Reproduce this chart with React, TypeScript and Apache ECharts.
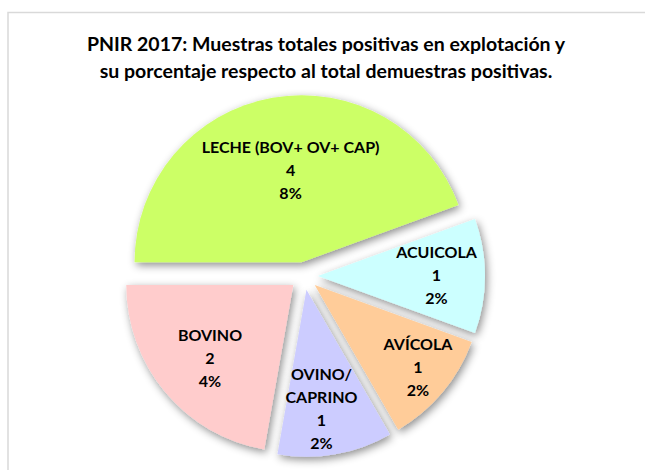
import React, { useEffect, useRef } from "react";
import * as echarts from "echarts";

const categories = ["LECHE (BOV+ OV+ CAP)", "ACUICOLA", "AVÍCOLA", "OVINO/\nCAPRINO", "BOVINO"];
const values = [4, 1, 1, 1, 2];
const percentLabels = ["8%", "2%", "2%", "2%", "4%"];
const colors = ["#CCFF66", "#CCFFFF", "#FFCC99", "#CCCCFF", "#FFCCCC"];
const labelOffsets: [number, number][] = [[4, -8], [32, -2], [37, 26], [0, 33], [-17, 17]];

const titleLines = [
  "PNIR 2017: Muestras totales positivas en explotación y",
  "su porcentaje respecto al total demuestras positivas.",
];

export default function App() {
  const ref = useRef<HTMLDivElement>(null);
  useEffect(() => {
    if (!ref.current) return;
    const chart = echarts.init(ref.current, undefined, { renderer: "svg" });
    const font = "Lato, 'Open Sans', sans-serif";
    chart.setOption({
      animation: false,
      backgroundColor: "#ffffff",
      title: {
        text: titleLines.join("\n"),
        left: 321,
        textAlign: "center",
        top: 25,
        textStyle: {
          fontFamily: font,
          fontWeight: "bold",
          fontSize: 19.5,
          lineHeight: 27,
          color: "#000000",
        },
      },
      graphic: [
        {
          type: "rect",
          z: -10,
          silent: true,
          shape: { x: 8, y: 12.5, width: 800, height: 600 },
          style: { fill: "none", stroke: "#d9d9d9", lineWidth: 1.5 },
        },
      ],
      series: [
        {
          type: "pie",
          center: [304, 276],
          radius: [0, 167],
          startAngle: 180,
          clockwise: true,
          selectedMode: "multiple",
          selectedOffset: 14,
          emphasis: { disabled: true },
          select: { itemStyle: { borderWidth: 0 } },
          itemStyle: {
            borderWidth: 0,
            shadowBlur: 9,
            shadowColor: "rgba(0,0,0,0.45)",
            shadowOffsetX: 2,
            shadowOffsetY: 3,
          },
          label: {
            show: true,
            position: "inside",
            fontFamily: font,
            fontWeight: "bold",
            fontSize: 16,
            lineHeight: 23,
            color: "#000000",
            align: "center",
          },
          labelLine: { show: false },
          labelLayout: (params: any) => {
            const o = labelOffsets[params.dataIndex] || [0, 0];
            return { dx: o[0], dy: o[1] };
          },
          data: categories.map((name, i) => ({
            name,
            value: values[i],
            selected: true,
            itemStyle: { color: colors[i] },
            label: {
              formatter: () => `${name}\n${values[i]}\n${percentLabels[i]}`,
            },
          })),
        },
      ],
    });
    return () => chart.dispose();
  }, []);
  return (
    <div
      ref={ref}
      style={{ position: "fixed", left: 0, top: 0, width: 645, height: 470 }}
    />
  );
}
